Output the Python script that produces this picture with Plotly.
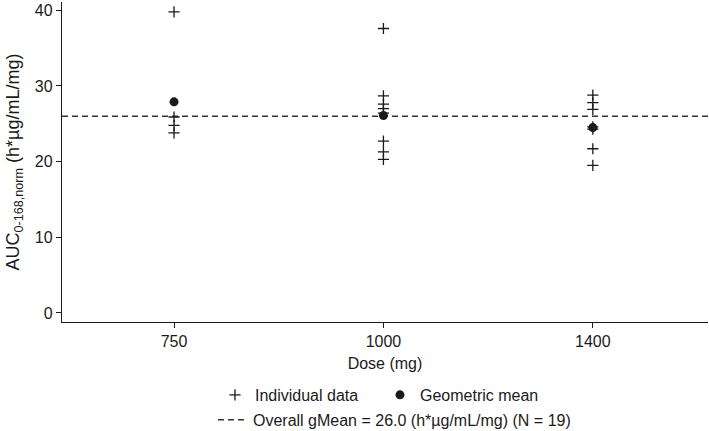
"""AUC by dose: individual values, geometric means and overall gMean."""

import plotly.graph_objects as go

doses = ["750", "1000", "1400"]
indiv_750 = [39.8, 25.9, 24.8, 23.8]
indiv_1000 = [37.6, 28.7, 27.6, 27.0, 26.4, 22.7, 21.3, 20.3]
indiv_1400 = [28.8, 27.8, 26.9, 24.6, 24.3, 21.7, 19.5]
gmeans = [27.9, 26.1, 24.5]
overall_gmean = 26.0
n_total = 19

FONT = "Liberation Sans, Arial, sans-serif"
INK = "#1a1a1a"
DASH = dict(color="#333333", width=1.5, dash="6px,4px")

xs, ys = [], []
for dose, vals in zip(doses, [indiv_750, indiv_1000, indiv_1400]):
    xs += [dose] * len(vals)
    ys += vals

fig = go.Figure()
fig.add_trace(
    go.Scatter(
        x=xs,
        y=ys,
        mode="markers",
        name="Individual data",
        marker=dict(symbol="cross-thin", size=8, line=dict(color=INK, width=1.3)),
        legend="legend",
    )
)
fig.add_trace(
    go.Scatter(
        x=doses,
        y=gmeans,
        mode="markers",
        name="Geometric mean",
        marker=dict(symbol="circle", size=9, color=INK),
        legend="legend",
    )
)
# legend entry for the overall gMean line (the line itself is a shape)
fig.add_trace(
    go.Scatter(
        x=[None],
        y=[None],
        mode="lines",
        name=f"Overall gMean = {overall_gmean:.1f} (h*µg/mL/mg) (N = {n_total})",
        line=DASH,
        legend="legend2",
    )
)
fig.add_hline(y=overall_gmean, line=DASH, layer="below")


def _legend(x, y, **kw):
    return dict(
        orientation="h",
        x=x,
        xanchor="left",
        y=y,
        yanchor="middle",
        font=dict(size=16),
        itemwidth=30,
        bgcolor="rgba(0,0,0,0)",
        **kw,
    )


fig.update_layout(
    width=709,
    height=431,
    margin=dict(l=62, r=1, t=2, b=109, autoexpand=False),
    paper_bgcolor="white",
    plot_bgcolor="white",
    font=dict(family=FONT, size=16, color=INK),
    xaxis=dict(
        type="category",
        categoryorder="array",
        categoryarray=doses,
        range=[-0.535, 2.55],
        automargin=False,
        showgrid=False,
        zeroline=False,
        showline=True,
        linecolor=INK,
        linewidth=1.3,
        ticks="outside",
        ticklen=5,
        tickcolor=INK,
        tickfont=dict(size=16),
        title=dict(text="Dose (mg)", standoff=8, font=dict(size=16)),
    ),
    yaxis=dict(
        range=[-1.2, 41.1],
        tickvals=[0, 10, 20, 30, 40],
        automargin=False,
        showgrid=False,
        zeroline=False,
        showline=True,
        linecolor=INK,
        linewidth=1.3,
        ticks="outside",
        ticklen=5,
        tickcolor=INK,
        tickfont=dict(size=16),
        title=dict(
            text="AUC<sub>0-168,norm</sub> (h*µg/mL/mg)",
            standoff=10,
            font=dict(size=18),
        ),
    ),
    legend=_legend(0.2368, -0.228, entrywidth=120),
    legend2=_legend(0.2337, -0.306),
)

# drop the browser's default 8px body margin so the figure fills the window
fig.write_html(
    "out.html",
    config={"displayModeBar": False},
    post_script="document.body.style.margin = '0';",
)
